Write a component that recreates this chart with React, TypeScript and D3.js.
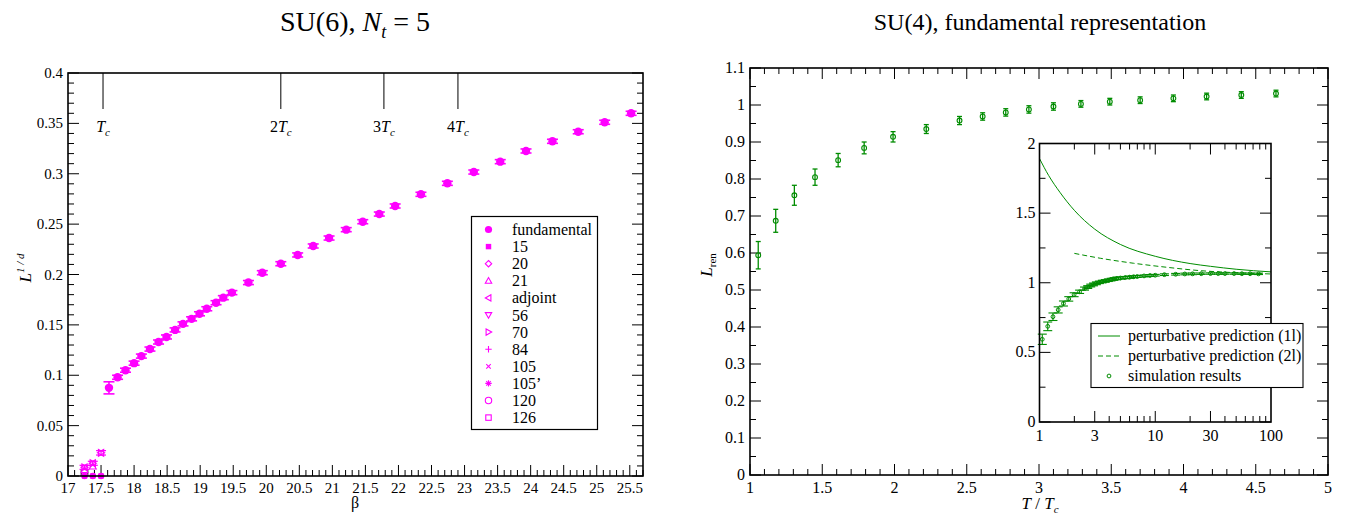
import React from 'react';
import * as d3 from 'd3';

const FONT = '"Liberation Serif", "Times New Roman", serif';
const MAG = '#ff00ff';
const GRN = '#008c00';

// ---------- Left panel: SU(6), Nt = 5 ----------
const fundBeta = [17.62, 17.75, 17.87, 18.0, 18.11, 18.24, 18.37, 18.49, 18.62, 18.74, 18.87, 18.99, 19.1, 19.24, 19.35, 19.48, 19.73, 19.94, 20.22, 20.475, 20.71, 20.95, 21.21, 21.46, 21.71, 21.95, 22.34, 22.74, 23.14, 23.54, 23.93, 24.33, 24.72, 25.12, 25.52];
const fundL = [0.0875, 0.098, 0.105, 0.112, 0.119, 0.126, 0.133, 0.138, 0.145, 0.151, 0.156, 0.161, 0.166, 0.172, 0.177, 0.182, 0.192, 0.2018, 0.2107, 0.2194, 0.2283, 0.2362, 0.2445, 0.2524, 0.26, 0.268, 0.2796, 0.2905, 0.3017, 0.312, 0.3226, 0.3322, 0.3417, 0.3511, 0.36];
const fundErr = [0.006, 0.002, 0.002, 0.002, 0.002, 0.002, 0.002, 0.002, 0.002, 0.002, 0.002, 0.002, 0.002, 0.002, 0.002, 0.002, 0.002, 0.002, 0.002, 0.002, 0.002, 0.002, 0.002, 0.002, 0.002, 0.002, 0.002, 0.002, 0.002, 0.002, 0.002, 0.002, 0.002, 0.002, 0.002];
const confinedBeta = [17.25, 17.375, 17.5];
const confinedL = [0, 0, 0];
const adjBeta = [17.25, 17.375, 17.5];
const adjL = [0.0086, 0.0126, 0.023];
const adjErr = [0.002, 0.002, 0.0022];
const rep21Beta = [17.25, 17.375];
const rep21L = [0.006, 0.0095];
const tcBeta = [17.53, 20.22, 21.78, 22.9];
const tcPrefix = ['', '2', '3', '4'];
const legendNames = ['fundamental', '15', '20', '21', 'adjoint', '56', '70', '84', '105', '105\u2019', '120', '126'];
const legendSymbols = ['circleF', 'squareF', 'diamond', 'triUp', 'triLeft', 'triDown', 'triRight', 'plus', 'cross', 'star', 'circleO', 'squareO'];

// ---------- Right panel: SU(4) fundamental ----------
const simT = [1.057, 1.178, 1.307, 1.45, 1.61, 1.79, 1.99, 2.22, 2.45, 2.61, 2.77, 2.93, 3.1, 3.29, 3.49, 3.7, 3.93, 4.16, 4.4, 4.64];
const simL = [0.594, 0.687, 0.756, 0.805, 0.851, 0.884, 0.914, 0.935, 0.958, 0.969, 0.98, 0.988, 0.996, 1.003, 1.009, 1.013, 1.018, 1.023, 1.027, 1.031];
const simErr = [0.037, 0.031, 0.027, 0.022, 0.018, 0.016, 0.014, 0.012, 0.011, 0.01, 0.01, 0.01, 0.01, 0.009, 0.009, 0.009, 0.009, 0.009, 0.009, 0.009];
const extraT = [5, 5.5, 6, 6.5, 7, 8, 9, 10, 12, 15, 18, 21, 25, 30, 35, 40, 48, 56, 66, 78];
const extraL = [1.034, 1.037, 1.04, 1.043, 1.045, 1.049, 1.052, 1.054, 1.058, 1.061, 1.063, 1.064, 1.065, 1.066, 1.066, 1.066, 1.066, 1.065, 1.065, 1.064];
const extraErr = [0.008, 0.008, 0.008, 0.007, 0.007, 0.007, 0.007, 0.006, 0.006, 0.006, 0.006, 0.006, 0.005, 0.005, 0.005, 0.005, 0.005, 0.005, 0.005, 0.005];
const oneLoopT = [1, 1.2, 1.5, 2, 3, 5, 10, 20, 30, 50, 100];
const oneLoopL = [1.892, 1.77, 1.65, 1.52, 1.385, 1.275, 1.19, 1.138, 1.118, 1.097, 1.078];
const twoLoopT = [2, 3.35, 6.5, 12.6, 24.4, 47.5, 100];
const twoLoopL = [1.211, 1.176, 1.14, 1.111, 1.087, 1.073, 1.063];
const insetLegend = ['perturbative prediction (1l)', 'perturbative prediction (2l)', 'simulation results'];
const insetMajorX = [1, 3, 10, 30, 100];
const insetMinorX = [2, 4, 5, 6, 7, 8, 9, 20, 40, 50, 60, 70, 80, 90];

const fmt = (v: number) => String(Math.round(v * 1000) / 1000);
const near = (a: number, step: number) => Math.abs(a / step - Math.round(a / step)) < 1e-6;

function Sym({ kind, x, y, s, color }: { kind: string; x: number; y: number; s: number; color: string }) {
  const st = { fill: 'none', stroke: color, strokeWidth: 1.1 };
  switch (kind) {
    case 'circleF': return <circle cx={x} cy={y} r={s} fill={color} />;
    case 'squareF': return <rect x={x - s * 0.85} y={y - s * 0.85} width={s * 1.7} height={s * 1.7} fill={color} />;
    case 'diamond': return <path d={`M${x},${y - s}L${x + s},${y}L${x},${y + s}L${x - s},${y}Z`} {...st} />;
    case 'triUp': return <path d={`M${x},${y - s}L${x + s},${y + s * 0.75}L${x - s},${y + s * 0.75}Z`} {...st} />;
    case 'triDown': return <path d={`M${x},${y + s}L${x + s},${y - s * 0.75}L${x - s},${y - s * 0.75}Z`} {...st} />;
    case 'triLeft': return <path d={`M${x - s},${y}L${x + s * 0.75},${y - s}L${x + s * 0.75},${y + s}Z`} {...st} />;
    case 'triRight': return <path d={`M${x + s},${y}L${x - s * 0.75},${y - s}L${x - s * 0.75},${y + s}Z`} {...st} />;
    case 'plus': return <path d={`M${x - s},${y}H${x + s}M${x},${y - s}V${y + s}`} {...st} />;
    case 'cross': return <path d={`M${x - s * 0.7},${y - s * 0.7}L${x + s * 0.7},${y + s * 0.7}M${x - s * 0.7},${y + s * 0.7}L${x + s * 0.7},${y - s * 0.7}`} {...st} />;
    case 'star': return <path d={`M${x - s},${y}H${x + s}M${x},${y - s}V${y + s}M${x - s * 0.7},${y - s * 0.7}L${x + s * 0.7},${y + s * 0.7}M${x - s * 0.7},${y + s * 0.7}L${x + s * 0.7},${y - s * 0.7}`} {...st} />;
    case 'circleO': return <circle cx={x} cy={y} r={s} {...st} />;
    case 'squareO': return <rect x={x - s * 0.85} y={y - s * 0.85} width={s * 1.7} height={s * 1.7} {...st} />;
    default: return null;
  }
}

function ErrBar({ x, y1, y2, w, color, sw }: { x: number; y1: number; y2: number; w: number; color: string; sw: number }) {
  return (
    <g stroke={color} strokeWidth={sw} fill="none">
      <line x1={x} x2={x} y1={y1} y2={y2} />
      <line x1={x - w / 2} x2={x + w / 2} y1={y1} y2={y1} />
      <line x1={x - w / 2} x2={x + w / 2} y1={y2} y2={y2} />
    </g>
  );
}

type Side = 'bottom' | 'top' | 'left' | 'right';
function tickLines(values: number[], scale: (v: number) => number, side: Side, pos: number, len: number, key: string) {
  return values.map((v, i) => {
    const p = scale(v);
    if (side === 'bottom') return <line key={key + i} x1={p} x2={p} y1={pos} y2={pos - len} />;
    if (side === 'top') return <line key={key + i} x1={p} x2={p} y1={pos} y2={pos + len} />;
    if (side === 'left') return <line key={key + i} y1={p} y2={p} x1={pos} x2={pos + len} />;
    return <line key={key + i} y1={p} y2={p} x1={pos} x2={pos - len} />;
  });
}

function LeftPanel() {
  const x = d3.scaleLinear().domain([17, 25.7]).range([68, 643]);
  const y = d3.scaleLinear().domain([0, 0.4]).range([476, 73]);
  const [x0, x1] = x.range();
  const [y0, y1] = y.range();
  const xMaj = d3.range(17, 25.51, 0.5);
  const xMin = d3.range(17, 25.71, 0.1).filter((v) => !near(v - 17, 0.5));
  const yMaj = d3.range(0, 0.4001, 0.05);
  const yMin = d3.range(0, 0.4001, 0.01).filter((v) => !near(v, 0.05));
  const lg = { x: 471.5, y: 216.5, w: 126, h: 213, first: 229.5 };
  return (
    <g>
      <text x={355} y={31} textAnchor="middle" fontSize={28}>
        {'SU(6), '}<tspan fontStyle="italic">N</tspan><tspan dy={7} fontSize={18} fontStyle="italic">t</tspan><tspan dy={-7}>{' = 5'}</tspan>
      </text>
      <g stroke="#000" strokeWidth={1}>
        {tickLines(xMaj, x, 'bottom', y0, 11, 'lbM')}
        {tickLines(xMin, x, 'bottom', y0, 6, 'lbm')}
        {tickLines(yMaj, y, 'left', x0, 11, 'llM')}
        {tickLines(yMin, y, 'left', x0, 6, 'llm')}
        {tickLines(yMaj, y, 'right', x1, 11, 'lrM')}
        {tickLines(yMin, y, 'right', x1, 6, 'lrm')}
      </g>
      {tcBeta.map((b, i) => (
        <g key={'tc' + i}>
          <line x1={x(b)} x2={x(b)} y1={y1} y2={y1 + 36} stroke="#000" strokeWidth={1} />
          <text x={x(b)} y={132} textAnchor="middle" fontSize={16}>
            {tcPrefix[i]}<tspan fontStyle="italic">T</tspan><tspan dy={4} fontSize={11} fontStyle="italic">c</tspan>
          </text>
        </g>
      ))}
      {xMaj.map((v) => (
        <text key={'lxl' + v} x={x(v)} y={493} textAnchor="middle" fontSize={15}>{fmt(v)}</text>
      ))}
      {yMaj.map((v) => (
        <text key={'lyl' + v} x={x0 - 5} y={y(v) + 5} textAnchor="end" fontSize={15}>{fmt(v)}</text>
      ))}
      <text x={355} y={508} textAnchor="middle" fontSize={16}>β</text>
      <text transform={`translate(31,268) rotate(-90)`} textAnchor="middle" fontSize={17}>
        <tspan fontStyle="italic">L</tspan><tspan dy={-7} fontSize={11} fontStyle="italic">{'1 / d'}</tspan>
      </text>
      {rep21Beta.map((b, i) => (
        <Sym key={'r21' + i} kind="triUp" x={x(b)} y={y(rep21L[i])} s={3.5} color={MAG} />
      ))}
      {adjBeta.map((b, i) => (
        <g key={'adj' + i}>
          <ErrBar x={x(b)} y1={y(adjL[i] - adjErr[i])} y2={y(adjL[i] + adjErr[i])} w={10} color={MAG} sw={1.2} />
          <Sym kind="triLeft" x={x(b)} y={y(adjL[i])} s={3.5} color={MAG} />
          <Sym kind="triRight" x={x(b)} y={y(adjL[i])} s={3.5} color={MAG} />
        </g>
      ))}
      {confinedBeta.map((b, i) => (
        <g key={'cf' + i}>
          <Sym kind="squareF" x={x(b)} y={y(confinedL[i])} s={3} color={MAG} />
          <Sym kind="circleF" x={x(b)} y={y(confinedL[i])} s={3.3} color={MAG} />
        </g>
      ))}
      {fundBeta.map((b, i) => (
        <g key={'fd' + i}>
          <ErrBar x={x(b)} y1={y(fundL[i] - fundErr[i])} y2={y(fundL[i] + fundErr[i])} w={11} color={MAG} sw={1.6} />
          <circle cx={x(b)} cy={y(fundL[i])} r={4.2} fill={MAG} />
        </g>
      ))}
      <rect x={x0} y={y1} width={x1 - x0} height={y0 - y1} fill="none" stroke="#000" strokeWidth={1.6} />
      <rect x={lg.x} y={lg.y} width={lg.w} height={lg.h} fill="#fff" stroke="#000" strokeWidth={1.2} />
      {legendNames.map((n, i) => (
        <g key={'lg' + i}>
          <Sym kind={legendSymbols[i]} x={488.5} y={lg.first + i * 17.1} s={legendSymbols[i] === 'circleF' ? 3.6 : 3.2} color={MAG} />
          <text x={512} y={lg.first + i * 17.1 + 5.5} fontSize={16}>{n}</text>
        </g>
      ))}
    </g>
  );
}

function RightPanel() {
  const x = d3.scaleLinear().domain([1, 5]).range([750, 1328]);
  const y = d3.scaleLinear().domain([0, 1.1]).range([475, 68]);
  const [x0, x1] = x.range();
  const [y0, y1] = y.range();
  const xMaj = d3.range(1, 5.001, 0.5);
  const xMin = d3.range(1, 5.001, 0.1).filter((v) => !near(v - 1, 0.5));
  const yMaj = d3.range(0, 1.1001, 0.1);
  const yMin = d3.range(0.05, 1.1, 0.1);

  const xi = d3.scaleLog().domain([1, 100]).range([1039.5, 1271]);
  const yi = d3.scaleLinear().domain([0, 2]).range([422, 143.5]);
  const [xi0, xi1] = xi.range();
  const [yi0, yi1] = yi.range();
  const yiMaj = [0, 0.5, 1, 1.5, 2];
  const yiMin = [0.25, 0.75, 1.25, 1.75];
  const line = d3.line<[number, number]>().x((d) => xi(d[0])).y((d) => yi(d[1])).curve(d3.curveMonotoneX);
  const one = line(oneLoopT.map((t, i) => [t, oneLoopL[i]] as [number, number])) || '';
  const two = line(twoLoopT.map((t, i) => [t, twoLoopL[i]] as [number, number])) || '';
  const allT = simT.concat(extraT);
  const allL = simL.concat(extraL);
  const allE = simErr.concat(extraErr);

  return (
    <g>
      <text x={1040} y={30} textAnchor="middle" fontSize={24}>SU(4), fundamental representation</text>
      <g stroke="#000" strokeWidth={1}>
        {tickLines(xMaj, x, 'bottom', y0, 11, 'rbM')}
        {tickLines(xMin, x, 'bottom', y0, 6, 'rbm')}
        {tickLines(xMaj, x, 'top', y1, 11, 'rtM')}
        {tickLines(xMin, x, 'top', y1, 6, 'rtm')}
        {tickLines(yMaj, y, 'left', x0, 11, 'rlM')}
        {tickLines(yMin, y, 'left', x0, 6, 'rlm')}
        {tickLines(yMaj, y, 'right', x1, 11, 'rrM')}
        {tickLines(yMin, y, 'right', x1, 6, 'rrm')}
      </g>
      {xMaj.map((v) => (
        <text key={'rxl' + v} x={x(v)} y={493} textAnchor="middle" fontSize={16}>{fmt(v)}</text>
      ))}
      {yMaj.map((v) => (
        <text key={'ryl' + v} x={x0 - 5} y={y(v) + 5} textAnchor="end" fontSize={16}>{fmt(v)}</text>
      ))}
      <text x={1040} y={509} textAnchor="middle" fontSize={17}>
        <tspan fontStyle="italic">T</tspan>{' / '}<tspan fontStyle="italic">T</tspan><tspan dy={4} fontSize={11} fontStyle="italic">c</tspan>
      </text>
      <text transform={`translate(712,265) rotate(-90)`} textAnchor="middle" fontSize={17}>
        <tspan fontStyle="italic">L</tspan><tspan dy={4} fontSize={11}>ren</tspan>
      </text>
      {simT.map((t, i) => (
        <g key={'sm' + i}>
          <ErrBar x={x(t)} y1={y(simL[i] - simErr[i])} y2={y(simL[i] + simErr[i])} w={5} color={GRN} sw={1.3} />
          <circle cx={x(t)} cy={y(simL[i])} r={2.4} fill="none" stroke={GRN} strokeWidth={1.1} />
        </g>
      ))}
      <rect x={x0} y={y1} width={x1 - x0} height={y0 - y1} fill="none" stroke="#000" strokeWidth={1.6} />

      <rect x={xi0} y={yi1} width={xi1 - xi0} height={yi0 - yi1} fill="#fff" />
      <g stroke="#000" strokeWidth={1}>
        {tickLines(insetMajorX.slice(1, -1), xi, 'bottom', yi0, 11, 'ibM')}
        {tickLines(insetMinorX, xi, 'bottom', yi0, 6, 'ibm')}
        {tickLines(insetMajorX.slice(1, -1), xi, 'top', yi1, 11, 'itM')}
        {tickLines(insetMinorX, xi, 'top', yi1, 6, 'itm')}
        {tickLines(yiMaj, yi, 'left', xi0, 11, 'ilM')}
        {tickLines(yiMin, yi, 'left', xi0, 6, 'ilm')}
        {tickLines(yiMaj, yi, 'right', xi1, 11, 'irM')}
        {tickLines(yiMin, yi, 'right', xi1, 6, 'irm')}
      </g>
      {insetMajorX.map((v) => (
        <text key={'ixl' + v} x={xi(v)} y={yi0 + 19} textAnchor="middle" fontSize={16}>{v}</text>
      ))}
      {yiMaj.map((v) => (
        <text key={'iyl' + v} x={xi0 - 4} y={yi(v) + 5} textAnchor="end" fontSize={16}>{fmt(v)}</text>
      ))}
      {allT.map((t, i) => (
        <g key={'is' + i}>
          <ErrBar x={xi(t)} y1={yi(allL[i] - allE[i])} y2={yi(allL[i] + allE[i])} w={9} color={GRN} sw={1.1} />
          <circle cx={xi(t)} cy={yi(allL[i])} r={1.9} fill="none" stroke={GRN} strokeWidth={1} />
        </g>
      ))}
      <path d={one} fill="none" stroke={GRN} strokeWidth={1} />
      <path d={two} fill="none" stroke={GRN} strokeWidth={1} strokeDasharray="5,3" />
      <rect x={xi0} y={yi1} width={xi1 - xi0} height={yi0 - yi1} fill="none" stroke="#000" strokeWidth={1.6} />
      <rect x={1091} y={323.5} width={212} height={64} fill="#fff" stroke="#000" strokeWidth={1.1} />
      <line x1={1098} x2={1120} y1={336} y2={336} stroke={GRN} strokeWidth={1} />
      <line x1={1098} x2={1120} y1={356} y2={356} stroke={GRN} strokeWidth={1} strokeDasharray="5,3" />
      <circle cx={1109} cy={376} r={1.9} fill="none" stroke={GRN} strokeWidth={1} />
      {insetLegend.map((n, i) => (
        <text key={'il' + i} x={1128} y={341 + i * 20} fontSize={16}>{n}</text>
      ))}
    </g>
  );
}

export default function App() {
  return (
    <svg width={1351} height={513} style={{ position: 'absolute', left: 0, top: 0 }} fontFamily={FONT}>
      <rect width={1351} height={513} fill="#fff" />
      <LeftPanel />
      <RightPanel />
    </svg>
  );
}
